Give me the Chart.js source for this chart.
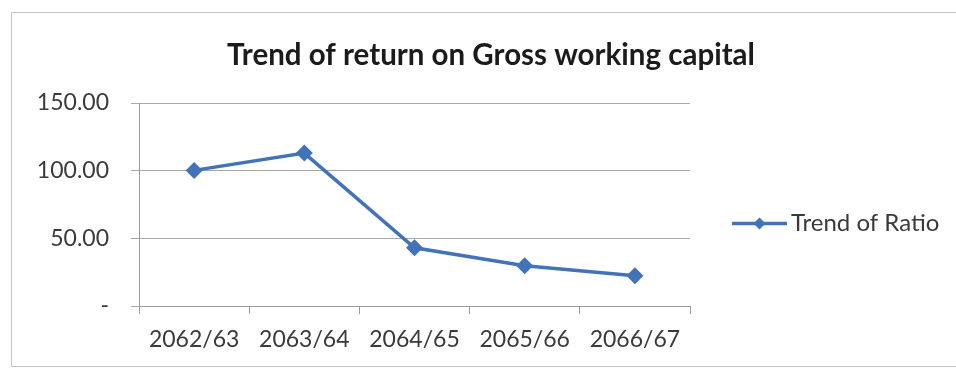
<!DOCTYPE html>
<html>
<head>
<meta charset="utf-8">
<script src="https://cdn.jsdelivr.net/npm/chart.js@4/dist/chart.umd.min.js"></script>
<style>
  html, body { margin: 0; padding: 0; background: #ffffff; }
  #wrap { position: relative; width: 956px; height: 369px; overflow: hidden; }
  #frame { position: absolute; left: 11px; top: 12px; width: 960px; height: 355px;
           border: 1px solid #c4c4c4; box-sizing: border-box; }
  canvas { position: absolute; left: 0; top: 0; }
</style>
</head>
<body>
<div id="wrap">
  <div id="frame"></div>
  <canvas id="chart" width="956" height="369"></canvas>
</div>
<script>
// Fiscal years (Bikram Sambat) and the return on gross working capital ratio
const categories = ['2062/63', '2063/64', '2064/65', '2065/66', '2066/67'];
const ratioValues = [100.2, 113.0, 43.0, 29.8, 22.3];
const seriesLabel = 'Trend of Ratio';
const chartTitle = 'Trend of return on Gross working capital';
const yTicks = [0, 50, 100, 150];

const LINE_BLUE = '#4273b8';
const FONT = 'Lato, "Open Sans", sans-serif';

// Title and legend drawn on the canvas, positioned from the chart area
const decorations = {
  id: 'decorations',
  afterDraw(chart) {
    const { ctx, chartArea } = chart;
    ctx.save();
    // title
    ctx.fillStyle = '#1b1b1b';
    ctx.font = 'bold 29.5px ' + FONT;
    ctx.textAlign = 'center';
    ctx.textBaseline = 'middle';
    ctx.fillText(chartTitle, 491, 55);

    // legend: line with a diamond marker, then the series name
    const ly = (chartArea.top + chartArea.bottom) / 2 + 19;
    const lx0 = chartArea.right + 42;
    const lx1 = lx0 + 55;
    ctx.strokeStyle = LINE_BLUE;
    ctx.lineWidth = 3.5;
    ctx.beginPath();
    ctx.moveTo(lx0, ly);
    ctx.lineTo(lx1, ly);
    ctx.stroke();
    const mx = (lx0 + lx1) / 2, r = 6;
    ctx.fillStyle = LINE_BLUE;
    ctx.beginPath();
    ctx.moveTo(mx, ly - r);
    ctx.lineTo(mx + r, ly);
    ctx.lineTo(mx, ly + r);
    ctx.lineTo(mx - r, ly);
    ctx.closePath();
    ctx.fill();
    ctx.fillStyle = '#3a3a3a';
    ctx.font = '24px ' + FONT;
    ctx.textAlign = 'left';
    ctx.fillText(seriesLabel, lx1 + 4, ly);
    ctx.restore();
  }
};

new Chart(document.getElementById('chart'), {
  type: 'line',
  data: {
    labels: categories,
    datasets: [{
      label: seriesLabel,
      data: ratioValues,
      borderColor: LINE_BLUE,
      backgroundColor: LINE_BLUE,
      borderWidth: 3.5,
      pointStyle: 'rectRot',
      pointRadius: 8.5,
      pointHoverRadius: 8.5,
      pointBorderWidth: 0,
      tension: 0
    }]
  },
  options: {
    responsive: false,
    animation: false,
    events: [],
    layout: { padding: { top: 103, right: 266, left: 0, bottom: 0 } },
    plugins: {
      legend: { display: false },
      title: { display: false },
      tooltip: { enabled: false }
    },
    scales: {
      x: {
        offset: true,
        grid: {
          offset: true,
          drawOnChartArea: false,
          drawTicks: true,
          tickLength: 8,
          color: '#9a9a9a'
        },
        border: { color: '#9a9a9a', width: 1 },
        ticks: {
          color: '#3a3a3a',
          font: { family: FONT, size: 23 },
          padding: 12,
          maxRotation: 0
        },
        afterFit(scale) { scale.height = 63; }
      },
      y: {
        min: 0,
        max: 150,
        afterBuildTicks(scale) { scale.ticks = yTicks.map(v => ({ value: v })); },
        grid: {
          color: '#a8a8a8',
          drawTicks: true,
          tickLength: 8
        },
        border: { color: '#9a9a9a', width: 1 },
        ticks: {
          color: '#3a3a3a',
          font: { family: FONT, size: 23 },
          padding: 22,
          callback: (v) => v === 0 ? '-' : v.toFixed(2)
        },
        afterFit(scale) { scale.width = 139; }
      }
    }
  },
  plugins: [decorations]
});
</script>
</body>
</html>
